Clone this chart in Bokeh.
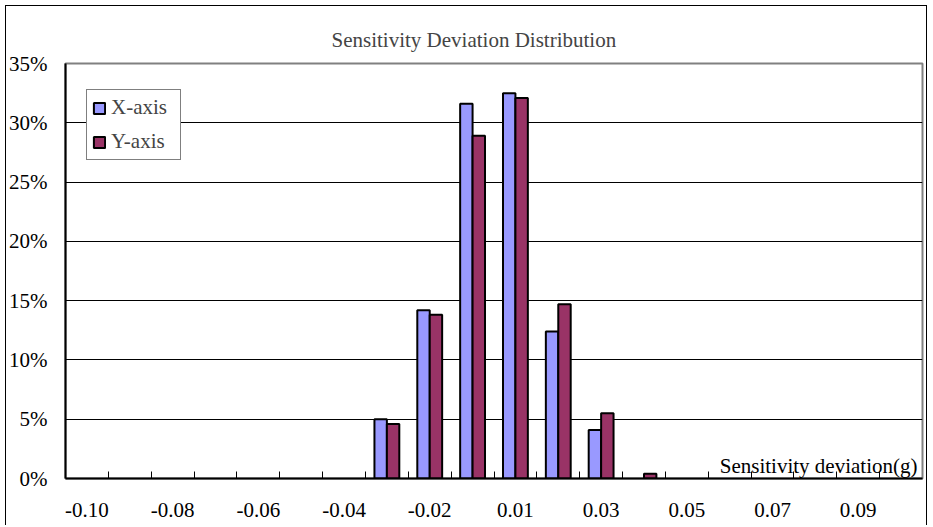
from bokeh.plotting import figure
from bokeh.models import (ColumnDataSource, FixedTicker, PrintfTickFormatter,
                          Label, Legend, LegendItem, CDSView, IndexFilter)
from bokeh.transform import dodge
from bokeh.embed import file_html
from bokeh.resources import INLINE

# ---- data ----
categories = ["-0.10", "-0.09", "-0.08", "-0.07", "-0.06", "-0.05", "-0.04",
              "-0.03", "-0.02", "-0.01", "0.01", "0.02", "0.03", "0.04",
              "0.05", "0.06", "0.07", "0.08", "0.09", "0.10"]
x_axis_pct = [0, 0, 0, 0, 0, 0, 0, 5.0, 14.2, 31.6, 32.5, 12.4, 4.1, 0,
              0, 0, 0, 0, 0, 0]
y_axis_pct = [0, 0, 0, 0, 0, 0, 0, 4.6, 13.8, 28.9, 32.1, 14.7, 5.5, 0.4,
              0, 0, 0, 0, 0, 0]
y_ticks = [0, 5, 10, 15, 20, 25, 30, 35]
title_text = "Sensitivity Deviation Distribution"
x_title = "Sensitivity deviation(g)"
series_names = ["X-axis", "Y-axis"]

FONT = "Liberation Serif"
FS = "21px"

n = len(categories)
centers = [i + 0.5 for i in range(n)]
src = ColumnDataSource(dict(cat=categories, c=centers, xs=x_axis_pct, ys=y_axis_pct))
view_x = CDSView(filter=IndexFilter([i for i, v in enumerate(x_axis_pct) if v > 0]))
view_y = CDSView(filter=IndexFilter([i for i, v in enumerate(y_axis_pct) if v > 0]))

p = figure(width=922, height=520, x_range=(0, n), y_range=(0, 35),
           output_backend="svg", toolbar_location=None,
           min_border_left=57, min_border_right=6,
           min_border_top=57, min_border_bottom=48)
p.styles = {"border-left": "1px solid black", "border-top": "1px solid black",
            "border-right": "1px solid black", "margin": "5px 0 0 5px"}

bx = p.vbar(x=dodge("c", -0.145), top="xs", width=0.29, source=src, view=view_x,
            fill_color="#9999FF", line_color="black", line_width=2)
by = p.vbar(x=dodge("c", 0.145), top="ys", width=0.29, source=src, view=view_y,
            fill_color="#993366", line_color="black", line_width=2)

# title
p.title.text = title_text
p.title.text_font = FONT
p.title.text_font_size = FS
p.title.text_font_style = "normal"
p.title.align = "left"
p.title.offset = 266
p.title.standoff = 24

# frame
p.outline_line_color = "#808080"
p.outline_line_width = 2
p.xgrid.visible = False
p.ygrid.ticker = FixedTicker(ticks=y_ticks)
p.ygrid.grid_line_color = "black"
p.ygrid.grid_line_width = 1

# y axis
p.yaxis.ticker = FixedTicker(ticks=y_ticks)
p.yaxis.formatter = PrintfTickFormatter(format="%d%%")
p.yaxis.major_label_text_font = FONT
p.yaxis.major_label_text_font_size = FS
p.yaxis.major_label_text_color = "black"
p.yaxis.major_tick_line_color = None
p.yaxis.major_tick_in = 0
p.yaxis.major_tick_out = 0
p.yaxis.minor_tick_line_color = None
p.yaxis.minor_tick_in = 0
p.yaxis.minor_tick_out = 0
p.yaxis.major_label_standoff = 18
p.yaxis.axis_line_color = "black"
p.yaxis.axis_line_width = 2

# x axis
label_pos = centers[::2]
p.xaxis.ticker = FixedTicker(ticks=label_pos, minor_ticks=list(range(1, n)))
p.xaxis.major_label_overrides = {pos: categories[i * 2] for i, pos in enumerate(label_pos)}
p.xaxis.major_label_text_font = FONT
p.xaxis.major_label_text_font_size = FS
p.xaxis.major_label_text_color = "black"
p.xaxis.major_tick_line_color = None
p.xaxis.major_tick_in = 0
p.xaxis.major_tick_out = 0
p.xaxis.minor_tick_line_color = "black"
p.xaxis.minor_tick_in = 7
p.xaxis.minor_tick_out = 0
p.xaxis.major_label_standoff = 24
p.xaxis.axis_line_color = "black"
p.xaxis.axis_line_width = 2

# x-axis title inside the plot area
p.add_layout(Label(x=n, y=0, text=x_title, text_align="right",
                   text_baseline="alphabetic", x_offset=-5, y_offset=13,
                   text_font=FONT, text_font_size=FS, text_color="black"))

legend = Legend(items=[LegendItem(label=series_names[0], renderers=[bx]),
                       LegendItem(label=series_names[1], renderers=[by])],
                location=(21, 318))
legend.label_text_font = FONT
legend.label_text_font_size = FS
legend.glyph_width = 14
legend.glyph_height = 14
legend.label_standoff = 5
legend.label_width = 64
legend.spacing = 9
legend.padding = 5
legend.margin = 0
legend.border_line_color = "black"
legend.border_line_width = 1
legend.background_fill_alpha = 1
p.add_layout(legend)

open("out.html", "w").write(file_html(p, INLINE))
